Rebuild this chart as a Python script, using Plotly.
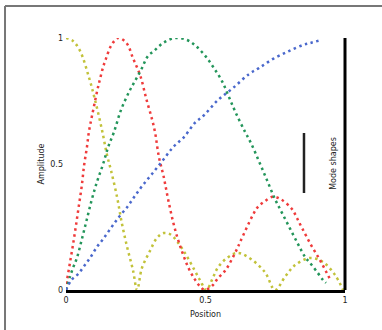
import plotly.graph_objects as go

# ---- data ----
yellow_x = [0, 0.025, 0.05, 0.082, 0.104, 0.129, 0.147, 0.161, 0.183, 0.2, 0.219, 0.24, 0.255,
            0.272, 0.301, 0.325, 0.35, 0.375, 0.40, 0.43, 0.46, 0.48, 0.503,
            0.527, 0.545, 0.577, 0.613, 0.652, 0.713, 0.749,
            0.785, 0.821, 0.875, 0.921, 0.964, 0.993]
yellow_y = [1.0, 0.988, 0.95, 0.845, 0.754, 0.635, 0.536, 0.476, 0.369, 0.266, 0.171, 0.079, 0.0,
            0.087, 0.155, 0.205, 0.226, 0.22, 0.19, 0.14, 0.08, 0.04, 0.0,
            0.05, 0.09, 0.127, 0.147, 0.131, 0.071, 0.0,
            0.052, 0.099, 0.127, 0.111, 0.06, 0.0]

red_x = [0, 0.004, 0.014, 0.025, 0.036, 0.047, 0.057, 0.065, 0.075, 0.082, 0.093, 0.115, 0.122,
         0.133, 0.143, 0.161, 0.186, 0.208, 0.222, 0.24, 0.254, 0.269, 0.287, 0.308, 0.319,
         0.333, 0.35, 0.366, 0.384, 0.40, 0.42, 0.44, 0.46, 0.48, 0.497,
         0.527, 0.545, 0.563, 0.577, 0.613, 0.624, 0.67, 0.688, 0.71, 0.74, 0.77, 0.81,
         0.828, 0.846, 0.878, 0.91, 0.935, 0.95]
red_y = [0, 0.04, 0.107, 0.179, 0.258, 0.341, 0.417, 0.496, 0.567, 0.627, 0.69, 0.806, 0.837,
         0.885, 0.917, 0.968, 1.0, 0.99, 0.972, 0.92, 0.885, 0.841, 0.762, 0.679, 0.627,
         0.528, 0.45, 0.36, 0.27, 0.205, 0.14, 0.085, 0.045, 0.015, 0.0,
         0.02, 0.048, 0.067, 0.087, 0.163, 0.19, 0.298, 0.33, 0.35, 0.37, 0.36, 0.321,
         0.285, 0.246, 0.179, 0.119, 0.067, 0.035]

green_x = [0, 0.014, 0.025, 0.039, 0.057, 0.075, 0.093, 0.111, 0.133, 0.151, 0.172, 0.197,
           0.226, 0.247, 0.269, 0.294, 0.315, 0.348, 0.39, 0.434, 0.466, 0.502, 0.53, 0.559,
           0.584, 0.609, 0.642, 0.663, 0.692, 0.72, 0.749, 0.778, 0.828, 0.857, 0.875, 0.903,
           0.921, 0.932]
green_y = [0, 0.052, 0.087, 0.127, 0.202, 0.282, 0.361, 0.429, 0.5, 0.567, 0.627, 0.714,
           0.786, 0.829, 0.873, 0.929, 0.948, 0.98, 1.0, 0.992, 0.968, 0.925, 0.881, 0.829,
           0.766, 0.702, 0.627, 0.583, 0.51, 0.437, 0.361, 0.298, 0.19, 0.131, 0.107, 0.067,
           0.04, 0.028]

blue_x = [0, 0.02, 0.043, 0.065, 0.086, 0.111, 0.133, 0.161, 0.19, 0.222, 0.247, 0.276, 0.308,
          0.348, 0.384, 0.423, 0.462, 0.495, 0.545, 0.599, 0.656, 0.692, 0.742, 0.799, 0.849,
          0.875, 0.914]
blue_y = [0, 0.04, 0.063, 0.095, 0.127, 0.171, 0.202, 0.246, 0.29, 0.333, 0.373, 0.417, 0.46,
          0.516, 0.567, 0.607, 0.663, 0.694, 0.754, 0.802, 0.857, 0.881, 0.917, 0.948, 0.972,
          0.98, 0.992]

tick_vals = [0, 0.5, 1]
tick_text = ["0", "0.5", "1"]

series = [
    ("yellow", yellow_x, yellow_y, "#c2c23a"),
    ("red", red_x, red_y, "#ef3b3b"),
    ("green", green_x, green_y, "#23955a"),
    ("blue", blue_x, blue_y, "#4a68cc"),
]

fig = go.Figure()
for name, xs, ys, col in series:
    fig.add_trace(go.Scatter(x=xs, y=ys, mode="lines", name=name, line_shape="spline",
                             line=dict(color=col, width=2.5, dash="2.5px,3.5px")))

font = dict(family="DejaVu Sans", size=8, color="#222")
fig.update_layout(
    width=382, height=330,
    margin=dict(l=66, r=37, t=38, b=40),
    paper_bgcolor="white", plot_bgcolor="white",
    showlegend=False, font=font,
    xaxis=dict(range=[0, 1], tickvals=tick_vals, ticktext=tick_text, showgrid=False,
               zeroline=False, showline=True, linecolor="black", linewidth=3, ticks="",
               title=dict(text="Position", font=font, standoff=8)),
    yaxis=dict(range=[0, 1], tickvals=tick_vals, ticktext=tick_text, showgrid=False,
               zeroline=False, showline=False, ticks="", ticklabelstandoff=2,
               title=dict(text="Amplitude", font=font, standoff=4)),
    shapes=[
        dict(type="line", xref="x domain", yref="y domain", x0=1, x1=1, y0=0, y1=1,
             line=dict(color="black", width=3)),
        dict(type="line", xref="paper", yref="paper", x0=0.853, x1=0.853, y0=0.385, y1=0.623,
             line=dict(color="#222", width=2.5)),
        dict(type="line", xref="paper", yref="paper", x0=-0.2186, x1=-0.2186, y0=1.127, y1=-0.2,
             line=dict(color="#777", width=2)),
        dict(type="line", xref="paper", yref="paper", x0=-0.2186, x1=1.2, y0=1.127, y1=1.127,
             line=dict(color="#777", width=2)),
    ],
    annotations=[
        dict(text="Mode shapes", xref="paper", yref="paper", x=0.96, y=0.504, showarrow=False,
             xanchor="center", yanchor="middle", textangle=-90, font=font),
    ],
)

fig.write_html("out.html", config={"displayModeBar": False},
               post_script="document.body.style.margin='0';")
